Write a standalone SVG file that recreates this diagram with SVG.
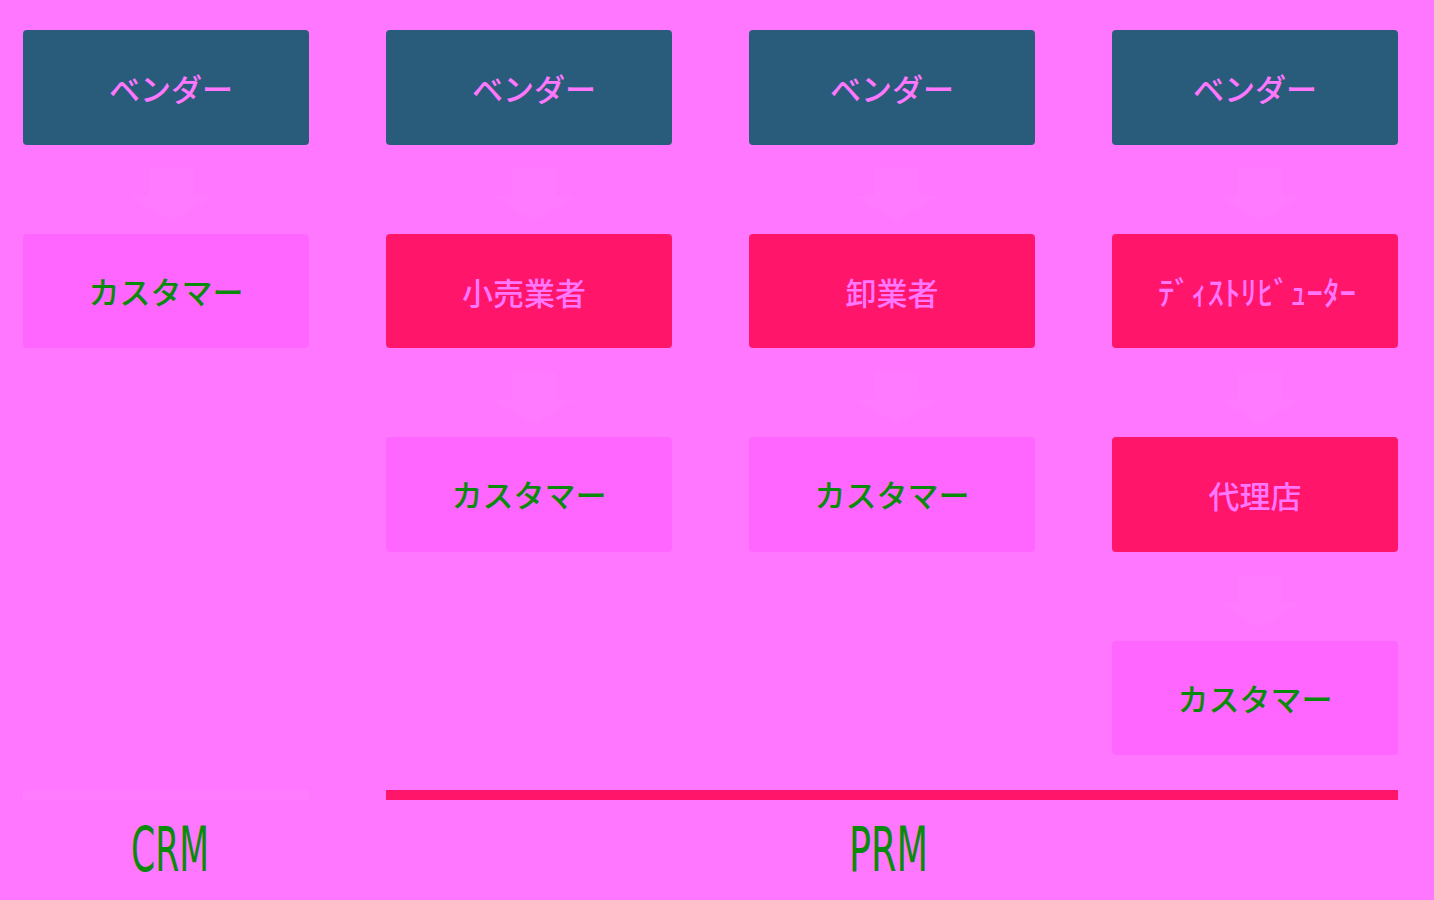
<svg xmlns="http://www.w3.org/2000/svg" width="1434" height="900" viewBox="0 0 1434 900">
<defs>
<style>
.bg{fill:#FF77FF}
.vendor{fill:#285C7A}
.partner{fill:#FF1569}
.cust{fill:#FF66FF}
.t{font-family:"Noto Sans CJK JP","Noto Sans",sans-serif;font-size:31px;font-weight:500;text-anchor:middle;dominant-baseline:central}
.tp{fill:#FF77FF}
.tg{fill:#0A8A0A}
.arrow{fill:#FFFFFF;fill-opacity:0.025}
.lbl{font-family:"DejaVu Sans","Liberation Sans",sans-serif;font-size:62px;fill:#0A8A0A}
</style>
<path id="arr" d="M-22,23 H22 V51 H42 L0,76 L-42,51 H-22 Z"/>
</defs>
<rect class="bg" x="0" y="0" width="1434" height="900"/>

<g id="connectors">
<use href="#arr" class="arrow" x="171" y="145"/>
<use href="#arr" class="arrow" x="534" y="145"/>
<use href="#arr" class="arrow" x="534" y="348"/>
<use href="#arr" class="arrow" x="897" y="145"/>
<use href="#arr" class="arrow" x="897" y="348"/>
<use href="#arr" class="arrow" x="1260" y="145"/>
<use href="#arr" class="arrow" x="1260" y="348"/>
<use href="#arr" class="arrow" x="1260" y="552"/>
</g>

<g id="crm-vendor"><rect class="vendor" x="23" y="30" width="286" height="115" rx="4"/><text class="t tp" x="171" y="87">ベンダー</text></g>
<g id="crm-customer"><rect class="cust" x="23" y="234" width="286" height="114" rx="4"/><text class="t tg" x="166" y="290">カスタマー</text></g>

<g id="retail-vendor"><rect class="vendor" x="386" y="30" width="286" height="115" rx="4"/><text class="t tp" x="534" y="87">ベンダー</text></g>
<g id="retailer"><rect class="partner" x="386" y="234" width="286" height="114" rx="4"/><text class="t tp" x="524" y="291">小売業者</text></g>
<g id="retail-customer"><rect class="cust" x="386" y="437" width="286" height="115" rx="4"/><text class="t tg" x="529" y="493">カスタマー</text></g>

<g id="wholesale-vendor"><rect class="vendor" x="749" y="30" width="286" height="115" rx="4"/><text class="t tp" x="892" y="87">ベンダー</text></g>
<g id="wholesaler"><rect class="partner" x="749" y="234" width="286" height="114" rx="4"/><text class="t tp" x="892" y="291">卸業者</text></g>
<g id="wholesale-customer"><rect class="cust" x="749" y="437" width="286" height="115" rx="4"/><text class="t tg" x="892" y="493">カスタマー</text></g>

<g id="dist-vendor"><rect class="vendor" x="1112" y="30" width="286" height="115" rx="4"/><text class="t tp" x="1255" y="87">ベンダー</text></g>
<g id="distributor"><rect class="partner" x="1112" y="234" width="286" height="114" rx="4"/><text class="t tp" x="1257" y="291" style="font-size:33px">ﾃﾞｨｽﾄﾘﾋﾞｭｰﾀｰ</text></g>
<g id="agent"><rect class="partner" x="1112" y="437" width="286" height="115" rx="4"/><text class="t tp" x="1255" y="494">代理店</text></g>
<g id="dist-customer"><rect class="cust" x="1112" y="641" width="286" height="114" rx="4"/><text class="t tg" x="1255" y="697">カスタマー</text></g>

<g id="crm-label">
<rect x="23" y="790" width="286" height="10" fill="#FFFFFF" fill-opacity="0.04"/>
<text class="lbl" x="131" y="871" textLength="78" lengthAdjust="spacingAndGlyphs">CRM</text>
</g>
<g id="prm-label">
<rect x="386" y="790" width="1012" height="10" fill="#FF1569"/>
<text class="lbl" x="849" y="871" textLength="79" lengthAdjust="spacingAndGlyphs">PRM</text>
</g>
</svg>
